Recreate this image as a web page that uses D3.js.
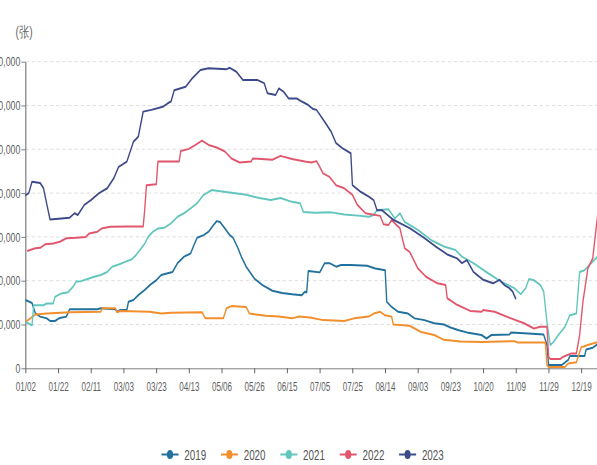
<!DOCTYPE html>
<html>
<head>
<meta charset="utf-8">
<script src="https://cdn.jsdelivr.net/npm/d3@7"></script>
<style>
  html, body { margin: 0; padding: 0; background: #fff; }
  svg { display: block; }
  text { font-family: "Liberation Sans", Arial, sans-serif; }
</style>
</head>
<body>
<script>
// Category axis: trading-day number within the year, labelled every 20 days
const tickDays = [0, 20, 40, 60, 80, 100, 120, 140, 160, 180, 200, 220, 240, 260, 280, 300, 320, 340];
const tickLabels = ["01/02", "01/22", "02/11", "03/03", "03/23", "04/13", "05/06", "05/26", "06/15",
                    "07/05", "07/25", "08/14", "09/03", "09/23", "10/20", "11/09", "11/29", "12/19"];
const yTicks = [0, 10000, 20000, 30000, 40000, 50000, 60000, 70000];
const years = ["2019", "2020", "2021", "2022", "2023"];

// Warehouse receipts (张) per trading day: [day, receipts]
const s2019 = [[0,15600],[4,14900],[5,13700],[6,12600],[9,11800],[13,11400],[15,10800],[18,10800],[21,11500],[25,11800],[27,13500],[44,13500],[46,13700],[55,13500],[56,12900],[58,13300],[62,13300],[63,15200],[66,15600],[69,16700],[73,17900],[76,19000],[80,20100],[83,21300],[87,21700],[90,22000],[93,24000],[97,25500],[101,26200],[103,28100],[105,29800],[109,30400],[112,31200],[115,32700],[117,33600],[119,33400],[122,31900],[125,30400],[127,29800],[130,27400],[132,25500],[135,23200],[140,20500],[145,19000],[151,17700],[157,17200],[163,16900],[169,16700],[171,17500],[172,17300],[173,22200],[180,21900],[183,24000],[186,24000],[190,23200],[193,23600],[199,23600],[209,23400],[214,22800],[220,22400],[221,15200],[224,14000],[228,12900],[234,12500],[238,11400],[244,11000],[250,10300],[256,10000],[260,9300],[265,8700],[270,8200],[279,7600],[282,6800],[285,7600],[296,7700],[297,8200],[305,8000],[317,7700],[319,5300],[320,750],[328,750],[332,1900],[333,2800],[342,2800],[343,4300],[347,4700],[350,5500],[353,5700]];
const s2020 = [[0,10600],[3,11400],[6,12300],[13,12500],[27,12800],[46,12900],[47,13700],[55,13700],[56,12800],[58,13100],[76,12900],[83,12500],[89,12700],[108,12800],[110,11400],[121,11400],[123,13700],[126,14200],[135,14000],[137,12500],[147,12000],[155,11800],[163,11400],[167,11800],[174,11600],[182,11000],[195,10800],[201,11400],[210,11800],[213,12500],[217,12900],[220,12100],[224,11800],[225,10000],[235,9700],[242,8300],[250,7600],[256,6500],[266,6100],[279,6000],[299,6200],[301,5900],[318,5900],[319,700],[320,300],[330,300],[332,1100],[337,1400],[340,4800],[344,5300],[350,6000],[353,6200]];
const s2021 = [[0,10600],[3,10000],[4,9800],[5,14400],[11,14400],[13,14800],[17,14800],[18,16300],[22,17100],[26,17350],[29,18600],[31,19800],[34,19900],[38,20400],[42,20900],[46,21300],[50,22000],[53,23200],[57,23700],[61,24300],[65,24900],[67,25600],[70,27000],[73,28500],[75,30000],[78,31200],[81,31900],[85,32100],[89,33100],[93,34600],[97,35400],[101,36500],[105,37700],[109,39600],[114,40700],[118,40500],[126,40100],[135,39600],[143,38900],[150,38400],[156,38900],[163,38000],[168,37700],[170,35700],[177,35500],[187,35600],[195,35100],[205,34800],[210,34600],[213,35000],[215,36100],[222,36300],[226,34200],[229,35400],[232,33400],[240,31600],[248,29300],[256,27800],[263,27000],[267,25500],[274,24000],[283,21700],[291,19800],[299,18300],[303,16900],[306,18300],[308,20400],[311,20100],[315,19000],[317,17500],[319,10600],[321,5300],[323,6000],[326,7600],[330,9500],[333,12100],[337,12500],[339,22000],[342,22400],[346,24000],[350,25500],[353,26000]];
const s2022 = [[1,26800],[6,27400],[9,27500],[12,28300],[17,28500],[21,28900],[25,29700],[31,29800],[37,30000],[39,30800],[44,31200],[47,32000],[52,32300],[62,32400],[72,32400],[73,36500],[74,41800],[80,42000],[81,47200],[94,47200],[95,49600],[100,50100],[104,51000],[108,52000],[112,51000],[117,50400],[122,49500],[126,47900],[131,47000],[138,47200],[139,47900],[151,47600],[156,48500],[163,47800],[171,47200],[175,47000],[178,47300],[180,46000],[182,44500],[186,43700],[190,41800],[195,41100],[200,39600],[203,37300],[208,35400],[217,34800],[219,32900],[222,32700],[224,33900],[227,32700],[229,32000],[232,27400],[235,26600],[240,22800],[245,20900],[252,19400],[257,19000],[258,16000],[264,14500],[272,13100],[279,12900],[280,13300],[287,12900],[297,11400],[305,10300],[311,9100],[315,9500],[319,9500],[320,2650],[321,2100],[327,2100],[329,2650],[334,3400],[337,3400],[339,7600],[341,15200],[344,22800],[347,25100],[350,35000],[353,42000]];
const s2023 = [[0,39500],[2,40000],[4,42600],[9,42300],[11,41100],[13,37500],[15,34000],[22,34200],[27,34400],[30,35400],[32,35000],[36,37300],[40,38400],[45,40000],[50,41100],[54,43400],[57,46000],[62,47200],[66,51700],[69,52900],[72,58600],[77,59000],[84,59700],[87,60500],[89,60900],[91,63500],[98,64300],[102,66200],[107,68100],[112,68500],[123,68300],[125,68600],[129,67700],[133,65800],[142,65800],[146,65100],[148,62800],[153,62400],[155,63900],[158,63100],[161,61600],[166,61600],[169,60900],[173,60100],[176,59200],[178,59000],[183,56300],[187,54000],[190,51400],[194,50200],[199,49100],[200,41800],[205,40300],[210,39200],[213,38400],[215,36100],[218,36100],[225,33900],[235,32000],[243,30000],[251,27800],[258,26000],[264,25100],[267,24000],[270,24700],[274,22000],[280,20200],[286,19400],[290,20200],[293,19000],[296,18300],[298,17500],[300,15800]];

const seriesData = [s2019, s2020, s2021, s2022, s2023];
const colors = ["#21709d", "#f28e2c", "#62c6bd", "#e1566c", "#3d4a8a"];

// The whole drawing is laid out in a wider frame and squeezed horizontally
const SX = 0.68;
const W = 597, H = 465;
const VW = W / SX;

const svg = d3.select("body").append("svg").attr("width", W).attr("height", H);
const root = svg.append("g").attr("transform", `scale(${SX},1)`);

const x0 = 25.5 / SX, x340 = 581.3 / SX;
const x = d3.scaleLinear().domain([0, 340]).range([x0, x340]);
const xAxisScale = x.copy().domain([0, 380]).range([x(0), x(380)]);
const y = d3.scaleLinear().domain([0, 70000]).range([368.3, 61.7]);

// Dashed horizontal grid
root.append("g")
  .selectAll("line")
  .data(yTicks.filter(d => d > 0))
  .join("line")
  .attr("x1", x0).attr("x2", VW + 10)
  .attr("y1", d => y(d)).attr("y2", d => y(d))
  .attr("stroke", "#d9d9d9")
  .attr("stroke-width", 1)
  .attr("stroke-dasharray", "5,4");

// Y axis
const yAxis = root.append("g")
  .attr("transform", `translate(${x0},0)`)
  .call(d3.axisLeft(y).tickValues(yTicks).tickFormat(d3.format(",")).tickSize(6).tickPadding(1.5).tickSizeOuter(0));
yAxis.select(".domain").attr("stroke", "#666").attr("stroke-width", 1.5);
yAxis.selectAll(".tick line").attr("stroke", "#666");
yAxis.selectAll(".tick text").attr("fill", "#5f5f5f").attr("font-size", 13)
  .attr("font-family", "'Liberation Sans', Arial, sans-serif");

// X axis (labels slightly narrower than the rest of the text)
const xAxis = root.append("g")
  .attr("transform", `translate(0,${y(0)})`)
  .call(d3.axisBottom(xAxisScale).tickValues(tickDays).tickFormat((d, i) => tickLabels[i]).tickSize(5).tickPadding(8).tickSizeOuter(0));
xAxis.select(".domain").attr("stroke", "#666").attr("stroke-width", 1);
xAxis.selectAll(".tick line").attr("stroke", "#666").attr("stroke-width", 1.5);
xAxis.selectAll(".tick text").attr("fill", "#5f5f5f").attr("font-size", 13.5)
  .attr("transform", "scale(0.88,1)")
  .attr("font-family", "'Liberation Sans', Arial, sans-serif");

// Unit label
root.append("text")
  .attr("x", x0 - 2).attr("y", 37.5)
  .attr("text-anchor", "middle")
  .attr("font-size", 15)
  .attr("fill", "#666")
  .text("(张)");

// Series lines
const line = d3.line().x(d => x(d[0])).y(d => y(d[1]));
root.append("g")
  .selectAll("path")
  .data(seriesData)
  .join("path")
  .attr("d", d => line(d))
  .attr("fill", "none")
  .attr("stroke", (d, i) => colors[i])
  .attr("stroke-width", 2)
  .attr("stroke-linejoin", "round");

// Legend
const legendY = 454.5;
const legendStart = 170 / SX, legendStep = 59.4 / SX;
const legend = root.append("g")
  .selectAll("g")
  .data(years)
  .join("g")
  .attr("transform", (d, i) => `translate(${legendStart + i * legendStep},${legendY})`);
legend.append("line")
  .attr("x1", -12.5).attr("x2", 12.5)
  .attr("stroke", (d, i) => colors[i]).attr("stroke-width", 2);
legend.append("circle")
  .attr("r", 4.5)
  .attr("fill", (d, i) => colors[i]);
legend.append("text")
  .attr("x", 21)
  .attr("dy", "0.36em")
  .attr("font-size", 14.5)
  .attr("fill", "#555")
  .text(d => d);
</script>
</body>
</html>
